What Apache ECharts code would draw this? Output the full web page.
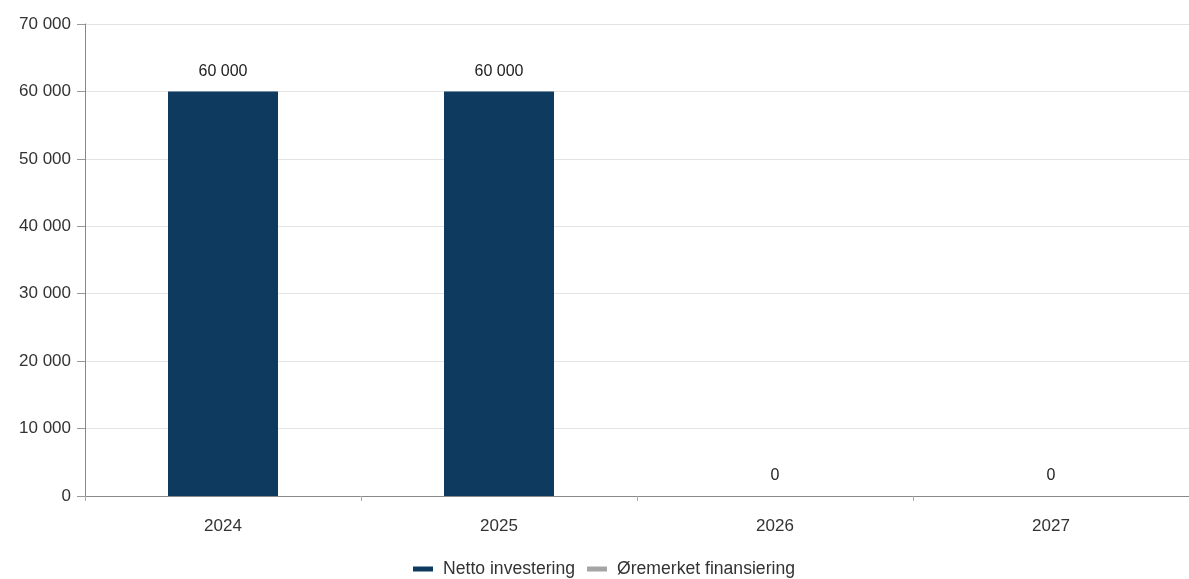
<!DOCTYPE html>
<html><head><meta charset="utf-8">
<script src="https://cdn.jsdelivr.net/npm/echarts@6/dist/echarts.min.js"></script>
<style>html,body{margin:0;padding:0;background:#fff}#c{width:1189px;height:579px}</style>
</head><body><div id="c"></div>
<script>
const categories = ['2024', '2025', '2026', '2027'];
const nettoInvestering = [60000, 60000, 0, 0];
const oremerketFinansiering = [0, 0, 0, 0];
const yTicks = [0, 10000, 20000, 30000, 40000, 50000, 60000, 70000];

function fmt(v) {
  return String(v).replace(/\B(?=(\d{3})+(?!\d))/g, ' ');
}
const chart = echarts.init(document.getElementById('c'));
chart.setOption({
  animation: false,
  textStyle: { fontFamily: 'Liberation Sans, Arial, sans-serif' },
  grid: { left: 85, top: 24, width: 1104, bottom: 83, containLabel: false },
  legend: {
    bottom: -4, left: 408, itemWidth: 20, itemHeight: 5, itemGap: 12,
    icon: 'rect',
    textStyle: { fontSize: 17.6, color: '#333', padding: [0, 0, 0, 5] },
    data: ['Netto investering', 'Øremerket finansiering']
  },
  xAxis: {
    type: 'category', data: categories,
    axisLine: { lineStyle: { color: '#888' } },
    axisTick: { show: true, alignWithLabel: false, length: 5, lineStyle: { color: '#aaa' } },
    axisLabel: { fontSize: 17, color: '#333', margin: 22 }
  },
  yAxis: {
    type: 'value', min: 0, max: 70000, interval: 10000,
    axisLine: { show: true, lineStyle: { color: '#888' } },
    axisTick: { show: true, length: 8, lineStyle: { color: '#999' } },
    splitLine: { lineStyle: { color: '#e3e3e3' } },
    axisLabel: { fontSize: 17, color: '#333', margin: 14, formatter: v => fmt(v) }
  },
  series: [
    {
      name: 'Netto investering', type: 'bar', stack: 'a', data: nettoInvestering,
      barWidth: 110,
      itemStyle: { color: '#0e3a60', borderWidth: 0 },
      label: { show: true, position: 'top', distance: 12, fontSize: 16, color: '#222', formatter: p => fmt(p.value) }
    },
    {
      name: 'Øremerket finansiering', type: 'bar', stack: 'a', data: oremerketFinansiering,
      barWidth: 110,
      itemStyle: { color: '#a5a5a5' },
      label: { show: false }
    }
  ]
});
</script></body></html>
